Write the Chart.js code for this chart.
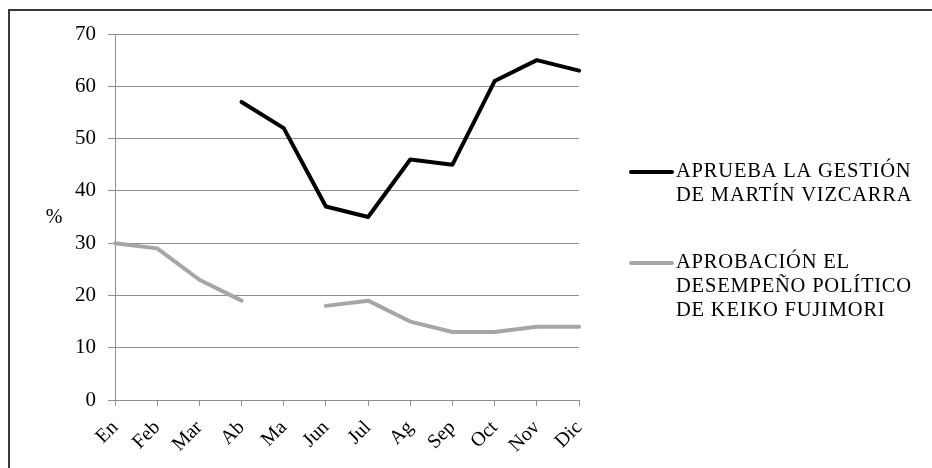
<!DOCTYPE html>
<html>
<head>
<meta charset="utf-8">
<script src="https://cdn.jsdelivr.net/npm/chart.js@4/dist/chart.umd.min.js"></script>
<style>
html,body{margin:0;padding:0;background:#fff;}
#wrap{position:relative;width:932px;height:468px;}
</style>
</head>
<body>
<div id="wrap"><canvas id="c"></canvas></div>
<script>
const months = ['En','Feb','Mar','Ab','Ma','Jun','Jul','Ag','Sep','Oct','Nov','Dic'];
const vizcarra = [null,null,null,57,52,37,35,46,45,61,65,63];
const keiko = [30,29,23,19,null,18,19,15,13,13,14,14];
const legendLines = [
	['APRUEBA LA GESTIÓN','DE MARTÍN VIZCARRA'],
	['APROBACIÓN EL','DESEMPEÑO POLÍTICO','DE KEIKO FUJIMORI']
];
const yTicks = {min:0, max:70, step:10};

const serif = '"Liberation Serif","DejaVu Serif",serif';
const gridCol = '#8f8f8f';

// outer frame (only top and left edges fall inside the page), the "%" label and the side key
const extras = {
	id:'extras',
	beforeDraw(chart){
		const ctx = chart.ctx;
		ctx.save();
		ctx.fillStyle = '#fff';
		ctx.fillRect(0,0,chart.width,chart.height);
		ctx.strokeStyle = '#3a3a3a';
		ctx.lineWidth = 2;
		ctx.beginPath();
		ctx.moveTo(9,chart.height);
		ctx.lineTo(9,10);
		ctx.lineTo(chart.width,10);
		ctx.stroke();
		ctx.restore();
	},
	afterDraw(chart){
		const ctx = chart.ctx;
		ctx.save();
		ctx.fillStyle = '#000';
		ctx.font = '20px '+serif;
		ctx.textAlign = 'center';
		ctx.textBaseline = 'middle';
		ctx.fillText('%',54,218);

		const rows = [172,263];
		ctx.font = '20.5px '+serif;
		ctx.textAlign = 'left';
		if('letterSpacing' in ctx) ctx.letterSpacing = '0.8px';
		chart.data.datasets.forEach((ds,i)=>{
			const y = rows[i];
			ctx.strokeStyle = ds.borderColor;
			ctx.lineWidth = 4;
			ctx.lineCap = 'round';
			ctx.beginPath();
			ctx.moveTo(631,y);
			ctx.lineTo(672,y);
			ctx.stroke();
			ctx.fillStyle = '#000';
			legendLines[i].forEach((t,j)=>ctx.fillText(t,676,y+j*23.8));
		});
		ctx.restore();
	}
};

new Chart(document.getElementById('c'),{
	type:'line',
	data:{
		labels:months,
		datasets:[
			{label:legendLines[0].join(' '),data:vizcarra,borderColor:'#000000',borderWidth:4},
			{label:legendLines[1].join(' '),data:keiko,borderColor:'#a6a6a6',borderWidth:4}
		]
	},
	options:{
		responsive:true,
		maintainAspectRatio:false,
		animation:false,
		spanGaps:false,
		layout:{padding:{left:0,top:34,right:353,bottom:0}},
		elements:{
			point:{radius:0,hoverRadius:0},
			line:{tension:0,borderCapStyle:'round',borderJoinStyle:'round'}
		},
		plugins:{legend:{display:false},tooltip:{enabled:false}},
		scales:{
			x:{
				offset:false,
				grid:{drawOnChartArea:false,drawTicks:true,tickLength:6,color:gridCol,lineWidth:1},
				border:{color:gridCol,width:1},
				ticks:{color:'#000',font:{family:serif,size:20},minRotation:45,maxRotation:45,padding:10,autoSkip:false},
				afterFit(s){ s.height = 68; }
			},
			y:{
				min:yTicks.min,max:yTicks.max,
				grid:{color:gridCol,lineWidth:1,tickLength:7},
				border:{color:gridCol,width:1},
				ticks:{stepSize:yTicks.step,color:'#000',font:{family:serif,size:21},padding:12},
				afterFit(s){ s.width = 115; }
			}
		}
	},
	plugins:[extras]
});
</script>
</body>
</html>
